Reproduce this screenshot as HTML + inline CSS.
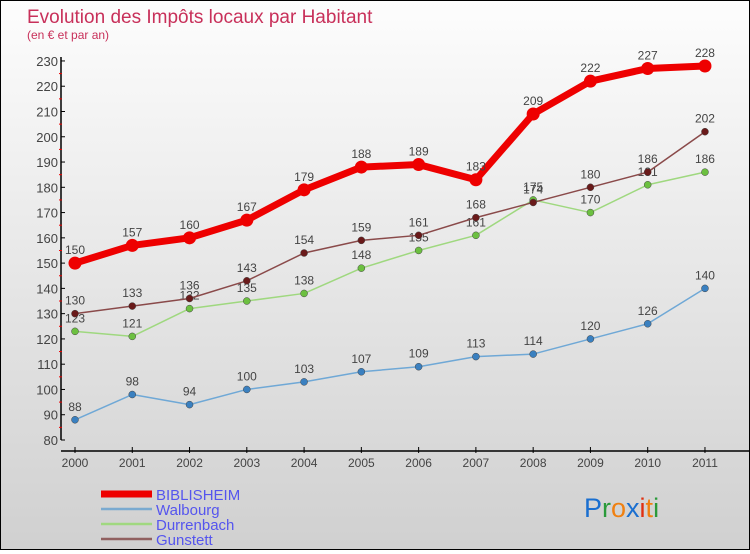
<!DOCTYPE html>
<html><head><meta charset="utf-8"><style>
body{margin:0}
#c{width:748px;height:548px;border:1px solid #000;background:linear-gradient(#fdfdfd,#d0d0d0);position:relative;font-family:"Liberation Sans",sans-serif}
</style></head><body>
<div id="c">
<svg id="s" width="748" height="548"></svg>
</div>
<script>
const years=[2000,2001,2002,2003,2004,2005,2006,2007,2008,2009,2010,2011];
const yTicks=[80,90,100,110,120,130,140,150,160,170,180,190,200,210,220,230];
const biblisheim=[150,157,160,167,179,188,189,183,209,222,227,228];
const walbourg=[88,98,94,100,103,107,109,113,114,120,126,140];
const durrenbach=[123,121,132,135,138,148,155,161,175,170,181,186];
const gunstett=[130,133,136,143,154,159,161,168,174,180,186,202];
const series=[
 {name:'walbourg',v:walbourg,c:'#6fa8d6',d:'#3a80c0',w:1.5,r:3.5,lab:true},
 {name:'durrenbach',v:durrenbach,c:'#9fd87f',d:'#6cc040',w:1.5,r:3.5,lab:true},
 {name:'gunstett',v:gunstett,c:'#8a4a4a',d:'#6a1a1a',w:1.5,r:3.5,lab:true},
 {name:'biblisheim',v:biblisheim,c:'#ee0000',d:'#ee0000',w:7,r:6.5,lab:true}
];
const NS='http://www.w3.org/2000/svg';
const s=document.getElementById('s');
const X=i=>74+i*57.27;
const Y=v=>439-(v-80)*2.527;
function el(t,a,p){const e=document.createElementNS(NS,t);for(const k in a)e.setAttribute(k,a[k]);(p||s).appendChild(e);return e;}
function tx(x,y,str,a){const e=el('text',Object.assign({x:x,y:y},a));e.textContent=str;return e;}
let t=tx(26,22,'Evolution des Impôts locaux par Habitant',{fill:'#c8305a','font-size':19});


t=tx(26,38,'(en € et par an)',{fill:'#c8305a','font-size':12});


let a=el('line',{x1:60,y1:Y(230)-4,x2:60,y2:Y(80),stroke:'#000','stroke-width':1.5});


yTicks.forEach(v=>{
 el('line',{x1:60,y1:Y(v),x2:64,y2:Y(v),stroke:'#000'});
 if(v<230)el('line',{x1:58,y1:Y(v+5),x2:61,y2:Y(v+5),stroke:'#e00'});
 const l=tx(57,Y(v)+5,v,{fill:'#444','font-size':13,'text-anchor':'end'});
 
 
});
a=el('line',{x1:60,y1:450,x2:748,y2:450,stroke:'#000','stroke-width':1.5});


years.forEach((y,i)=>{
 el('line',{x1:X(i),y1:446,x2:X(i),y2:452,stroke:'#000'});
 const l=tx(X(i),466,y,{fill:'#444','font-size':12,'text-anchor':'middle'});
 
 
});
series.forEach(se=>{
 const g=el('g',{});
 
 
 const pl=el('polyline',{points:se.v.map((v,i)=>X(i)+','+Y(v)).join(' '),fill:'none',stroke:se.c,'stroke-width':se.w,'stroke-linejoin':'round'},g);
 
 
 se.v.forEach((v,i)=>{
  const c=el('circle',{cx:X(i),cy:Y(v),r:se.r,fill:se.d,stroke:se.w>3?'none':'#444','stroke-width':0.5},g);
  
  
  const l=tx(X(i),Y(v)-9,v,{fill:'#444','font-size':12,'text-anchor':'middle'},g);
  
  
 });
});
const leg=[['BIBLISHEIM','#ee0000',7],['Walbourg','#7aaad0',2.5],['Durrenbach','#a0d880',2.5],['Gunstett','#906060',2.5]];
leg.forEach((L,i)=>{
 const y=493+i*15;
 const g=el('g',{});
 
 
 el('line',{x1:100,y1:y,x2:151,y2:y,stroke:L[1],'stroke-width':L[2]},g);
 tx(155,y+6,L[0],{fill:'#5555ee','font-size':15},g);
});
const lg=el('text',{x:583,y:516,'font-size':27,'font-family':'Liberation Sans, sans-serif'});


[['P','#1a6fd0'],['r','#2a9a3a'],['o','#f08010'],['x','#1a6fd0'],['i','#e03010'],['t','#f08010'],['i','#2a9a3a']].forEach(p=>{const ts=el('tspan',{fill:p[1]},lg);ts.textContent=p[0];});
</script>
</body></html>
